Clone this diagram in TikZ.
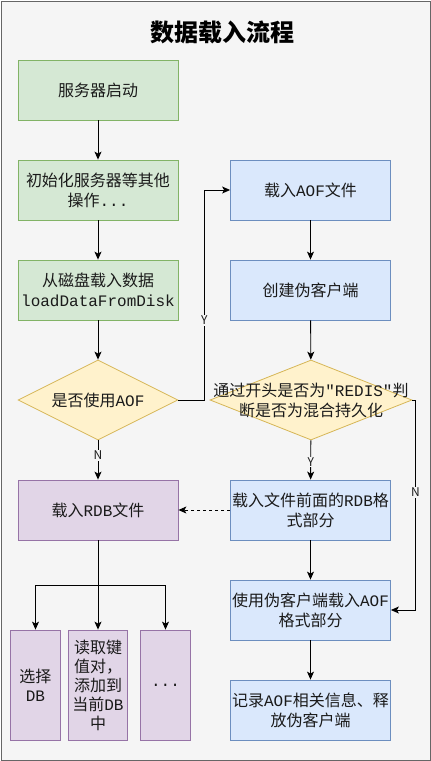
\documentclass[tikz,border=0pt]{standalone}
\usepackage{fontspec}
\setmonofont{Liberation Mono}
\newfontfamily\cjk{Noto Sans CJK SC}
\usetikzlibrary{arrows.meta,shapes.geometric}
\definecolor{bgfill}{HTML}{F5F5F5}
\definecolor{bgline}{HTML}{666666}
\definecolor{grfill}{HTML}{D5E8D4}
\definecolor{grline}{HTML}{82B366}
\definecolor{blfill}{HTML}{DAE8FC}
\definecolor{blline}{HTML}{6C8EBF}
\definecolor{yefill}{HTML}{FFF2CC}
\definecolor{yeline}{HTML}{D6B656}
\definecolor{pufill}{HTML}{E1D5E7}
\definecolor{puline}{HTML}{9673A6}
\definecolor{txt}{HTML}{1A1A1A}

\begin{document}
\begin{tikzpicture}[x=1pt,y=-1pt,
    box/.style={rectangle,minimum width=160pt,minimum height=60pt,inner sep=0pt,align=center,
      line width=0.8pt,text=txt,font=\cjk\fontsize{16}{20}\selectfont},
    greenbox/.style={box,fill=grfill,draw=grline},
    bluebox/.style={box,fill=blfill,draw=blline},
    purplebox/.style={box,fill=pufill,draw=puline},
    smallbox/.style={purplebox,minimum width=50pt,minimum height=110pt,font=\cjk\fontsize{16}{19}\selectfont},
    decision/.style={diamond,fill=yefill,draw=yeline,line width=0.8pt,minimum width=160pt,minimum height=80pt,
      inner sep=0pt},
    dectext/.style={align=center,text=txt,inner sep=0pt,font=\cjk\fontsize{16}{20}\selectfont},
    flow/.style={-{Stealth[length=8pt,width=7pt,inset=2pt]},line width=0.9pt,draw=black},
    yn/.style={fill=bgfill,inner sep=1pt,text=txt,font=\cjk\fontsize{12}{12}\selectfont}]
    \useasboundingbox (0,0) rectangle (431,761);
    \draw[fill=bgfill,draw=bgline,line width=1pt] (1,1) rectangle (430,760);
    \node[text=black,font=\cjk\bfseries\fontsize{24}{24}\selectfont] (title) at (222,32) {数据载入流程};

    \node[greenbox] (start) at (98,90) {服务器启动};
    \node[greenbox] (init) at (98,190) {初始化服务器等其他\\操作\texttt{...}};
    \node[greenbox] (disk) at (98,290) {从磁盘载入数据\\\texttt{loadDataFromDisk}};
    \node[decision,label={[dectext]center:是否使用\texttt{AOF}}] (useaof) at (98,400) {};
    \node[purplebox] (rdb) at (98,510) {载入\texttt{RDB}文件};
    \node[smallbox] (seldb) at (35.5,685) {选择\\\texttt{DB}};
    \node[smallbox,minimum width=59pt] (readkv) at (98,685) {读取键\\值对，\\添加到\\当前\texttt{DB}\\中};
    \node[smallbox] (more) at (165.5,685) {\texttt{...}};
    \coordinate (split) at (98,585);

    \node[bluebox] (aof) at (310.5,190) {载入\texttt{AOF}文件};
    \node[bluebox] (fake) at (310.5,290) {创建伪客户端};
    \node[decision,minimum width=202pt,
      label={[dectext]center:通过开头是否为\texttt{"REDIS"}判\\断是否为混合持久化}] (mixed) at (311,400) {};
    \node[bluebox] (rdbpart) at (310.5,510) {载入文件前面的\texttt{RDB}格\\式部分};
    \node[bluebox] (aofpart) at (310.5,610) {使用伪客户端载入\texttt{AOF}\\格式部分};
    \node[bluebox] (release) at (310.5,710) {记录\texttt{AOF}相关信息、释\\放伪客户端};

    \draw[flow] (start) -- (init);
    \draw[flow] (init) -- (disk);
    \draw[flow] (disk) -- (useaof);
    \draw[flow] (useaof) -- node[yn,pos=0.38] {N} (rdb);
    \draw[flow] (useaof.east) -- ++(26,0) |- node[yn,pos=0.19] {Y} (aof.west);
    \draw[line width=0.9pt] (rdb.south) -- (split);
    \draw[flow] (split) -- (readkv);
    \draw[flow] (split) -| (seldb);
    \draw[flow] (split) -| (more);

    \draw[flow] (aof) -- (fake);
    \draw[flow] (fake) -- (mixed);
    \draw[flow] (mixed) -- node[yn,pos=0.55] {Y} (rdbpart);
    \draw[flow] (mixed.east) -- ++(3,0) |- node[yn,pos=0.22] {N} (aofpart.east);
    \draw[flow,dashed] (rdbpart.west) -- (rdb.east);
    \draw[flow] (rdbpart) -- (aofpart);
    \draw[flow] (aofpart) -- (release);
\end{tikzpicture}
\end{document}
